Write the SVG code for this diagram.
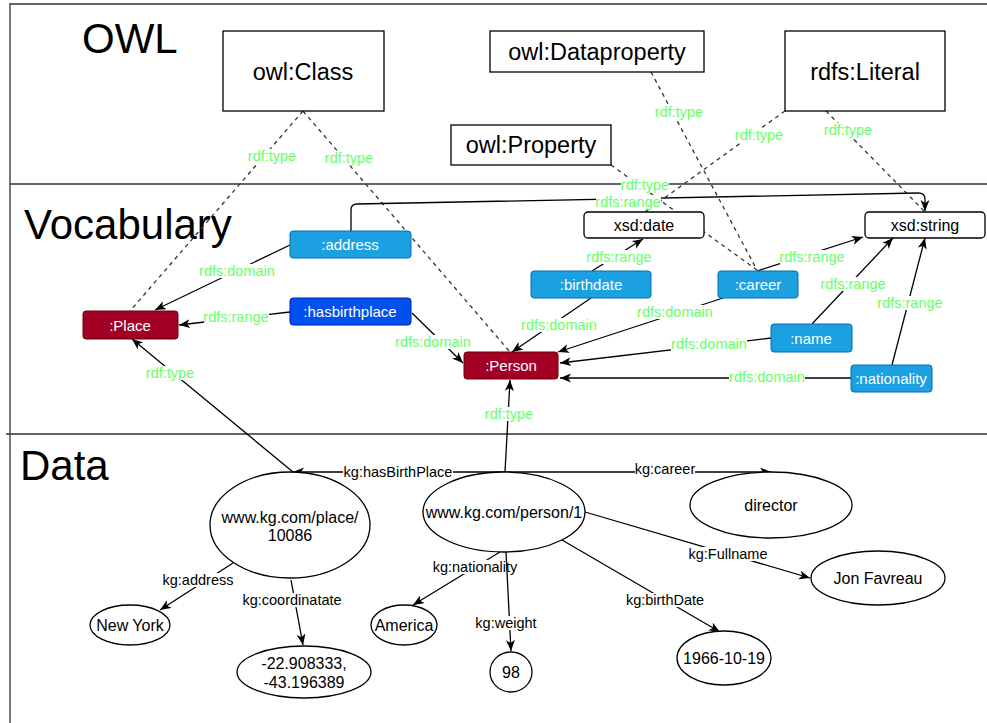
<svg xmlns="http://www.w3.org/2000/svg" width="987" height="723" viewBox="0 0 987 723">
<defs>
<marker id="arr" markerUnits="userSpaceOnUse" markerWidth="12" markerHeight="10" refX="11" refY="4.5" orient="auto">
<path d="M0,0 L11,4.5 L0,9 L3,4.5 z" fill="#000"/>
</marker>
<style>
text{font-family:"Liberation Sans",Arial,Helvetica,sans-serif;text-anchor:middle;dominant-baseline:central}
.head{font-size:42px;text-anchor:start;dominant-baseline:alphabetic;fill:#000}
.frame{stroke:#333;stroke-width:1.3;fill:none}
.owl rect{fill:#fff;stroke:#000;stroke-width:1.3}
.owl text{font-size:23.5px;fill:#000}
.dt rect{fill:#fff;stroke:#000;stroke-width:1.3}
.dt text{font-size:16px;fill:#000}
.cls rect{fill:#a20025;stroke:#6f0000;stroke-width:1}
.prop rect{fill:#1ba1e2;stroke:#006eaf;stroke-width:1}
.oprop rect{fill:#0050ef;stroke:#001dbc;stroke-width:1}
.cls text,.prop text,.oprop text{font-size:15px;fill:#fff}
.ent ellipse{fill:#fff;stroke:#000;stroke-width:1.3}
.ent text{font-size:16px;fill:#000}
.e{fill:none;stroke:#000;stroke-width:1.3}
.ea{fill:none;stroke:#000;stroke-width:1.3;marker-end:url(#arr)}
.d{fill:none;stroke:#333;stroke-width:1.3;stroke-dasharray:4 4}
.lb rect{fill:#fff}
.g{font-size:14.5px;fill:#66ff66}
.k{font-size:14.5px;fill:#000}
</style>
</defs>
<rect width="987" height="723" fill="#fff"/>
<g id="frames">
<path class="frame" d="M10,3 L10,723 M10,4 L987,4 M10,184 L987,184 M6,434 L987,434"/>
<text class="head" x="82" y="53">OWL</text>
<text class="head" x="24" y="239">Vocabulary</text>
<text class="head" x="20" y="480">Data</text>
</g>

<g id="connectors">
<!-- dashed rdf:type -->
<path class="d" d="M303,111 L130,311"/>
<path class="d" d="M303,111 L510,352"/>
<path class="d" d="M651,72 L757,270"/>
<path class="d" d="M611,165 L757,270"/>
<path class="d" d="M785,111 L645,212"/>
<path class="d" d="M826,111 L925,212"/>
<!-- vocabulary edges -->
<path class="ea" d="M351,231 L351,210 Q351,204 357,204 L918,193 Q925,193 925,199 L925,211"/>
<path class="ea" d="M290,245 L155,310"/>
<path class="ea" d="M290,312 L179,325"/>
<path class="ea" d="M412,313 L463,363"/>
<path class="ea" d="M592,271 L643,239"/>
<path class="ea" d="M591,298 L512,352"/>
<path class="ea" d="M757,271 L863,237"/>
<path class="ea" d="M723,298 L558,352"/>
<path class="ea" d="M812,324 L893,238"/>
<path class="ea" d="M771,338 L560,363"/>
<path class="ea" d="M892,365 L925,238"/>
<path class="ea" d="M851,378 L560,378"/>
<!-- data edges -->
<path class="ea" d="M505,472 L293,472"/>
<path class="ea" d="M505,472 L771,472"/>
<path class="ea" d="M505,472 L510,380"/>
<path class="ea" d="M293,472 L132,339"/>
<path class="ea" d="M233,563 L160,610"/>
<path class="ea" d="M291,580 L303,645"/>
<path class="ea" d="M500,552 L413,605"/>
<path class="ea" d="M585,512 L810,578"/>
<path class="ea" d="M562,540 L720,632"/>
<!-- labels -->
<g class="lb">
<rect x="248" y="149" width="48" height="14"/><text class="g" x="272" y="156">rdf:type</text>
<rect x="325" y="151" width="48" height="14"/><text class="g" x="349" y="158">rdf:type</text>
<rect x="655" y="105" width="48" height="14"/><text class="g" x="679" y="112">rdf:type</text>
<rect x="735" y="128" width="48" height="14"/><text class="g" x="759" y="135">rdf:type</text>
<rect x="824" y="123" width="48" height="14"/><text class="g" x="848" y="130">rdf:type</text>
<rect x="621" y="178" width="48" height="14"/><text class="g" x="645" y="185">rdf:type</text>
<rect x="596" y="195" width="65" height="14"/><text class="g" x="628" y="202">rdfs:range</text>
<rect x="199" y="264" width="76" height="14"/><text class="g" x="237" y="271">rdfs:domain</text>
<rect x="204" y="310" width="65" height="14"/><text class="g" x="236" y="317">rdfs:range</text>
<rect x="395" y="335" width="76" height="14"/><text class="g" x="433" y="342">rdfs:domain</text>
<rect x="587" y="250" width="65" height="14"/><text class="g" x="619" y="257">rdfs:range</text>
<rect x="521" y="318" width="76" height="14"/><text class="g" x="559" y="325">rdfs:domain</text>
<rect x="780" y="250" width="65" height="14"/><text class="g" x="812" y="257">rdfs:range</text>
<rect x="637" y="305" width="76" height="14"/><text class="g" x="675" y="312">rdfs:domain</text>
<rect x="821" y="277" width="65" height="14"/><text class="g" x="853" y="284">rdfs:range</text>
<rect x="671" y="337" width="76" height="14"/><text class="g" x="709" y="344">rdfs:domain</text>
<rect x="878" y="296" width="65" height="14"/><text class="g" x="910" y="303">rdfs:range</text>
<rect x="729" y="370" width="76" height="14"/><text class="g" x="767" y="377">rdfs:domain</text>
<rect x="146" y="366" width="48" height="14"/><text class="g" x="170" y="373">rdf:type</text>
<rect x="485" y="407" width="48" height="14"/><text class="g" x="509" y="414">rdf:type</text>
<rect x="343" y="465" width="110" height="14"/><text class="k" x="398" y="472">kg:hasBirthPlace</text>
<rect x="635" y="462" width="60" height="14"/><text class="k" x="665" y="469">kg:career</text>
<rect x="163" y="573" width="71" height="14"/><text class="k" x="198" y="580">kg:address</text>
<rect x="243" y="593" width="99" height="14"/><text class="k" x="292" y="600">kg:coordinatate</text>
<rect x="433" y="560" width="85" height="14"/><text class="k" x="475" y="567">kg:nationality</text>
<rect x="689" y="547" width="79" height="14"/><text class="k" x="728" y="554">kg:Fullname</text>
<rect x="626" y="593" width="78" height="14"/><text class="k" x="665" y="600">kg:birthDate</text>
</g>
<path class="ea" d="M506,552 L511,651"/>
<g class="lb"><rect x="476" y="616" width="61" height="14"/><text class="k" x="506" y="623">kg:weight</text></g>
</g>

<g id="owlClass" class="owl"><rect x="223" y="31" width="161" height="80"/><text x="303" y="72">owl:Class</text></g>
<g id="owlDataproperty" class="owl"><rect x="490" y="31" width="214" height="41"/><text x="597" y="52">owl:Dataproperty</text></g>
<g id="owlProperty" class="owl"><rect x="451" y="125" width="160" height="40"/><text x="531" y="145">owl:Property</text></g>
<g id="rdfsLiteral" class="owl"><rect x="785" y="31" width="160" height="80"/><text x="865" y="72">rdfs:Literal</text></g>

<g id="xsdDate" class="dt"><rect x="584" y="212" width="120" height="26" rx="4"/><text x="644" y="225">xsd:date</text></g>
<g id="xsdString" class="dt"><rect x="865" y="212" width="120" height="26" rx="4"/><text x="925" y="225">xsd:string</text></g>

<g id="place" class="cls"><rect x="83" y="311" width="95" height="28" rx="3"/><text x="130" y="325">:Place</text></g>
<g id="person" class="cls"><rect x="464" y="352" width="94" height="27" rx="3"/><text x="511" y="365.5">:Person</text></g>
<g id="address" class="prop"><rect x="290" y="231" width="121" height="27" rx="3"/><text x="350" y="244.5">:address</text></g>
<g id="hasbirthplace" class="oprop"><rect x="290" y="298" width="121" height="27" rx="3"/><text x="350" y="311.5">:hasbirthplace</text></g>
<g id="birthdate" class="prop"><rect x="531" y="271" width="120" height="27" rx="3"/><text x="591" y="284.5">:birthdate</text></g>
<g id="career" class="prop"><rect x="718" y="271" width="80" height="27" rx="3"/><text x="758" y="284.5">:career</text></g>
<g id="name" class="prop"><rect x="771" y="324" width="81" height="28" rx="3"/><text x="811" y="338">:name</text></g>
<g id="nationality" class="prop"><rect x="851" y="365" width="81" height="27" rx="3"/><text x="891" y="378.5">:nationality</text></g>

<g id="placeEntity" class="ent"><ellipse cx="290" cy="525" rx="80" ry="53"/><text x="290" y="517">www.kg.com/place/</text><text x="290" y="535">10086</text></g>
<g id="personEntity" class="ent"><ellipse cx="504" cy="512" rx="81" ry="40"/><text x="504" y="512">www.kg.com/person/1</text></g>
<g id="director" class="ent"><ellipse cx="771" cy="505" rx="81" ry="33"/><text x="771" y="505">director</text></g>
<g id="jonFavreau" class="ent"><ellipse cx="878" cy="578" rx="67" ry="27"/><text x="878" y="578">Jon Favreau</text></g>
<g id="newYork" class="ent"><ellipse cx="130" cy="625" rx="40" ry="20"/><text x="130" y="625">New York</text></g>
<g id="america" class="ent"><ellipse cx="404" cy="625" rx="33" ry="20"/><text x="404" y="625">America</text></g>
<g id="coords" class="ent"><ellipse cx="304" cy="672" rx="67" ry="26"/><text x="304" y="663">-22.908333,</text><text x="304" y="682">-43.196389</text></g>
<g id="weight98" class="ent"><ellipse cx="511" cy="672" rx="21" ry="20"/><text x="511" y="672">98</text></g>
<g id="birthDateVal" class="ent"><ellipse cx="724" cy="658" rx="47" ry="27"/><text x="724" y="658">1966-10-19</text></g>
</svg>
